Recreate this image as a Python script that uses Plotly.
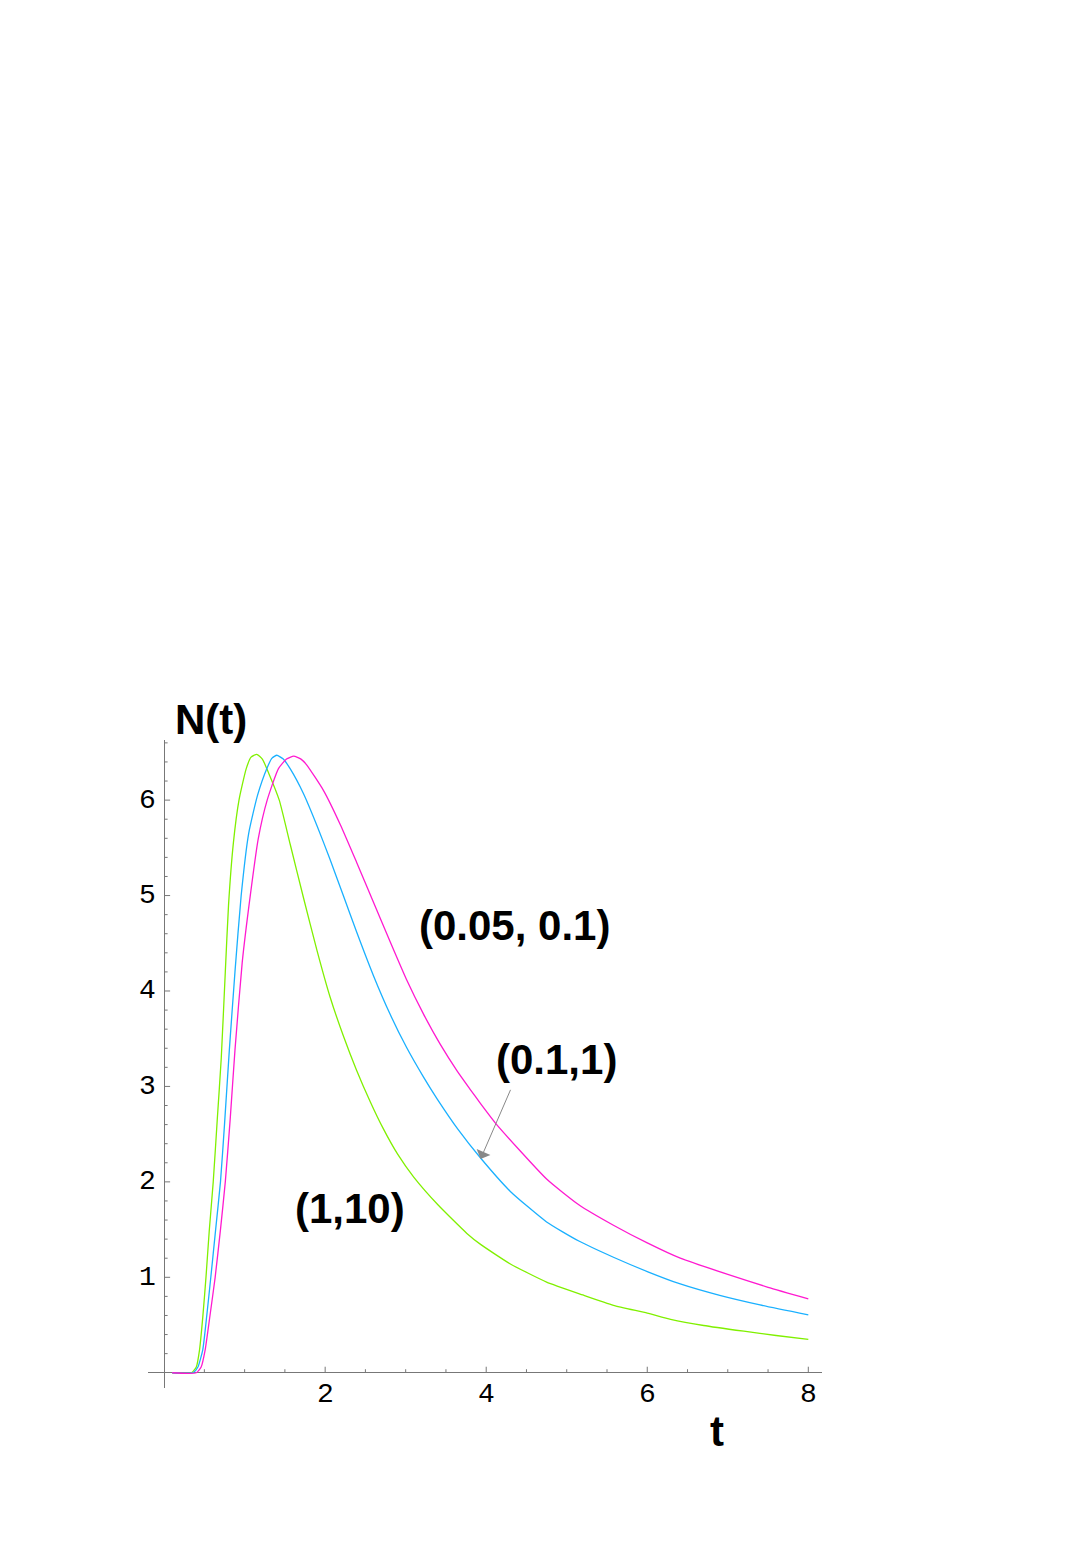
import plotly.graph_objects as go

# curve (1,10) - green
t_green = [0.1, 0.34, 0.40, 0.44, 0.48, 0.52, 0.56, 0.61, 0.66, 0.71, 0.76, 0.80, 0.86,
           0.93, 1.02, 1.08, 1.15, 1.22, 1.30, 1.43, 1.565, 1.73, 1.90, 2.06, 2.23, 2.39,
           2.56, 2.72, 2.90, 3.10, 3.40, 3.76, 3.93, 4.30, 4.75, 5.20, 5.58, 6.0, 6.29,
           6.7, 7.2, 7.6, 8.0]
n_green = [0, 0, 0.06, 0.24, 0.58, 1.0, 1.48, 2.0, 2.65, 3.3, 4.2, 4.9, 5.55,
           6.0, 6.33, 6.45, 6.48, 6.43, 6.28, 6.0, 5.54, 4.98, 4.42, 3.94, 3.52, 3.17,
           2.84, 2.56, 2.29, 2.05, 1.76, 1.46, 1.345, 1.14, 0.95, 0.815, 0.707, 0.625, 0.56,
           0.495, 0.435, 0.39, 0.349]

# curve (0.1,1) - blue
t_blue = [0.1, 0.36, 0.42, 0.48, 0.53, 0.58, 0.64, 0.70, 0.75, 0.81, 0.88, 0.957, 1.05,
          1.16, 1.28, 1.34, 1.40, 1.48, 1.565, 1.73, 1.90, 2.06, 2.23, 2.39, 2.60, 2.81,
          3.01, 3.22, 3.39, 3.65, 3.93, 4.3, 4.75, 5.15, 5.58, 6.0, 6.41, 6.9, 7.4, 8.0]
n_blue = [0, 0, 0.06, 0.24, 0.6, 1.0, 1.5, 2.0, 2.6, 3.38, 4.2, 5.0, 5.65,
          6.05, 6.34, 6.44, 6.47, 6.43, 6.33, 6.07, 5.73, 5.38, 4.99, 4.62, 4.16, 3.75,
          3.41, 3.10, 2.87, 2.55, 2.25, 1.9, 1.58, 1.38, 1.21, 1.06, 0.93, 0.81, 0.71, 0.607]

# curve (0.05, 0.1) - magenta
t_mag = [0.1, 0.40, 0.46, 0.51, 0.57, 0.634, 0.70, 0.76, 0.82, 0.88, 0.97, 1.07, 1.17,
         1.28, 1.42, 1.52, 1.61, 1.70, 1.77, 1.98, 2.19, 2.39, 2.60, 2.81, 3.01, 3.22,
         3.43, 3.64, 3.80, 3.93, 4.13, 4.75, 5.15, 5.58, 6.0, 6.41, 7.0, 7.5, 8.0]
n_mag = [0, 0, 0.06, 0.24, 0.6, 1.0, 1.5, 2.0, 2.65, 3.38, 4.3, 5.0, 5.6,
         6.0, 6.33, 6.43, 6.46, 6.43, 6.37, 6.10, 5.74, 5.35, 4.93, 4.51, 4.12, 3.76,
         3.44, 3.16, 2.97, 2.82, 2.6, 2.03, 1.76, 1.545, 1.36, 1.2, 1.03, 0.895, 0.775]

x_major = [2, 4, 6, 8]
x_minor = [0.5, 1, 1.5, 2.5, 3, 3.5, 4.5, 5, 5.5, 6.5, 7, 7.5]
y_major = [1, 2, 3, 4, 5, 6]
y_minor = [round(0.2 * i, 1) for i in range(1, 34) if i % 5 != 0]

x_range = [-0.2, 8.17]
y_range = [-0.16, 6.63]
axis_color = '#777777'

fig = go.Figure()

curves = [
    (t_green, n_green, '#80f000', '(1,10)'),
    (t_blue, n_blue, '#1ab0ff', '(0.1,1)'),
    (t_mag, n_mag, '#ff1ad0', '(0.05, 0.1)'),
]
for tt, nn, col, name in curves:
    fig.add_trace(go.Scatter(x=tt, y=nn, mode='lines', name=name,
                             line=dict(color=col, width=1.3, shape='spline', smoothing=0.5),
                             showlegend=False))

# tick marks drawn on the axes through the origin (Mathematica style)
px_x = 674 / (x_range[1] - x_range[0])
px_y = 648 / (y_range[1] - y_range[0])
for v in x_major:
    fig.add_shape(type='line', x0=v, x1=v, y0=0, y1=6 / px_y, line=dict(color=axis_color, width=1))
for v in x_minor:
    fig.add_shape(type='line', x0=v, x1=v, y0=0, y1=3.5 / px_y, line=dict(color=axis_color, width=1))
for v in y_major:
    fig.add_shape(type='line', x0=0, x1=6 / px_x, y0=v, y1=v, line=dict(color=axis_color, width=1))
for v in y_minor:
    fig.add_shape(type='line', x0=0, x1=3.5 / px_x, y0=v, y1=v, line=dict(color=axis_color, width=1))

tick_font = dict(family='Liberation Mono', size=28, color='black')
for v in x_major:
    fig.add_annotation(x=v, y=0, yshift=-22, text=str(v), showarrow=False, font=tick_font)
for v in y_major:
    fig.add_annotation(x=0, y=v, xshift=-6, xanchor='right', text=str(v), showarrow=False, font=tick_font)

bold = dict(family='Liberation Sans', size=42, color='black')
# axis labels sit outside the plotting range, so place them in paper coordinates
fig.add_annotation(xref='paper', yref='paper', xanchor='center', yanchor='middle',
                   x=(0.58 - x_range[0]) / (x_range[1] - x_range[0]),
                   y=(6.84 - y_range[0]) / (y_range[1] - y_range[0]),
                   text='<b>N(t)</b>', showarrow=False, font=bold)
fig.add_annotation(xref='paper', yref='paper', xanchor='center', yanchor='middle',
                   x=(6.86 - x_range[0]) / (x_range[1] - x_range[0]),
                   y=(-0.62 - y_range[0]) / (y_range[1] - y_range[0]),
                   text='<b>t</b>', showarrow=False, font=bold)
fig.add_annotation(x=4.35, y=4.69, text='<b>(0.05, 0.1)</b>', showarrow=False, font=bold)
fig.add_annotation(x=4.87, y=3.28, text='<b>(0.1,1)</b>', showarrow=False, font=bold)
fig.add_annotation(x=2.31, y=1.72, text='<b>(1,10)</b>', showarrow=False, font=bold)

# arrow from the (0.1,1) label to its curve
fig.add_annotation(x=3.93, y=2.24, ax=4.31, ay=2.98, axref='x', ayref='y',
                   text='', showarrow=True, arrowhead=1, arrowsize=2.5,
                   arrowwidth=1, arrowcolor='#888888')

fig.update_layout(
    width=1090, height=1542,
    margin=dict(l=140, r=276, t=732, b=162),
    paper_bgcolor='white', plot_bgcolor='white',
    xaxis=dict(range=x_range, showgrid=False, showticklabels=False, ticks='',
               zeroline=True, zerolinecolor=axis_color, zerolinewidth=1, showline=False),
    yaxis=dict(range=y_range, showgrid=False, showticklabels=False, ticks='',
               zeroline=True, zerolinecolor=axis_color, zerolinewidth=1, showline=False),
    showlegend=False,
)

fig.write_html('out.html')
